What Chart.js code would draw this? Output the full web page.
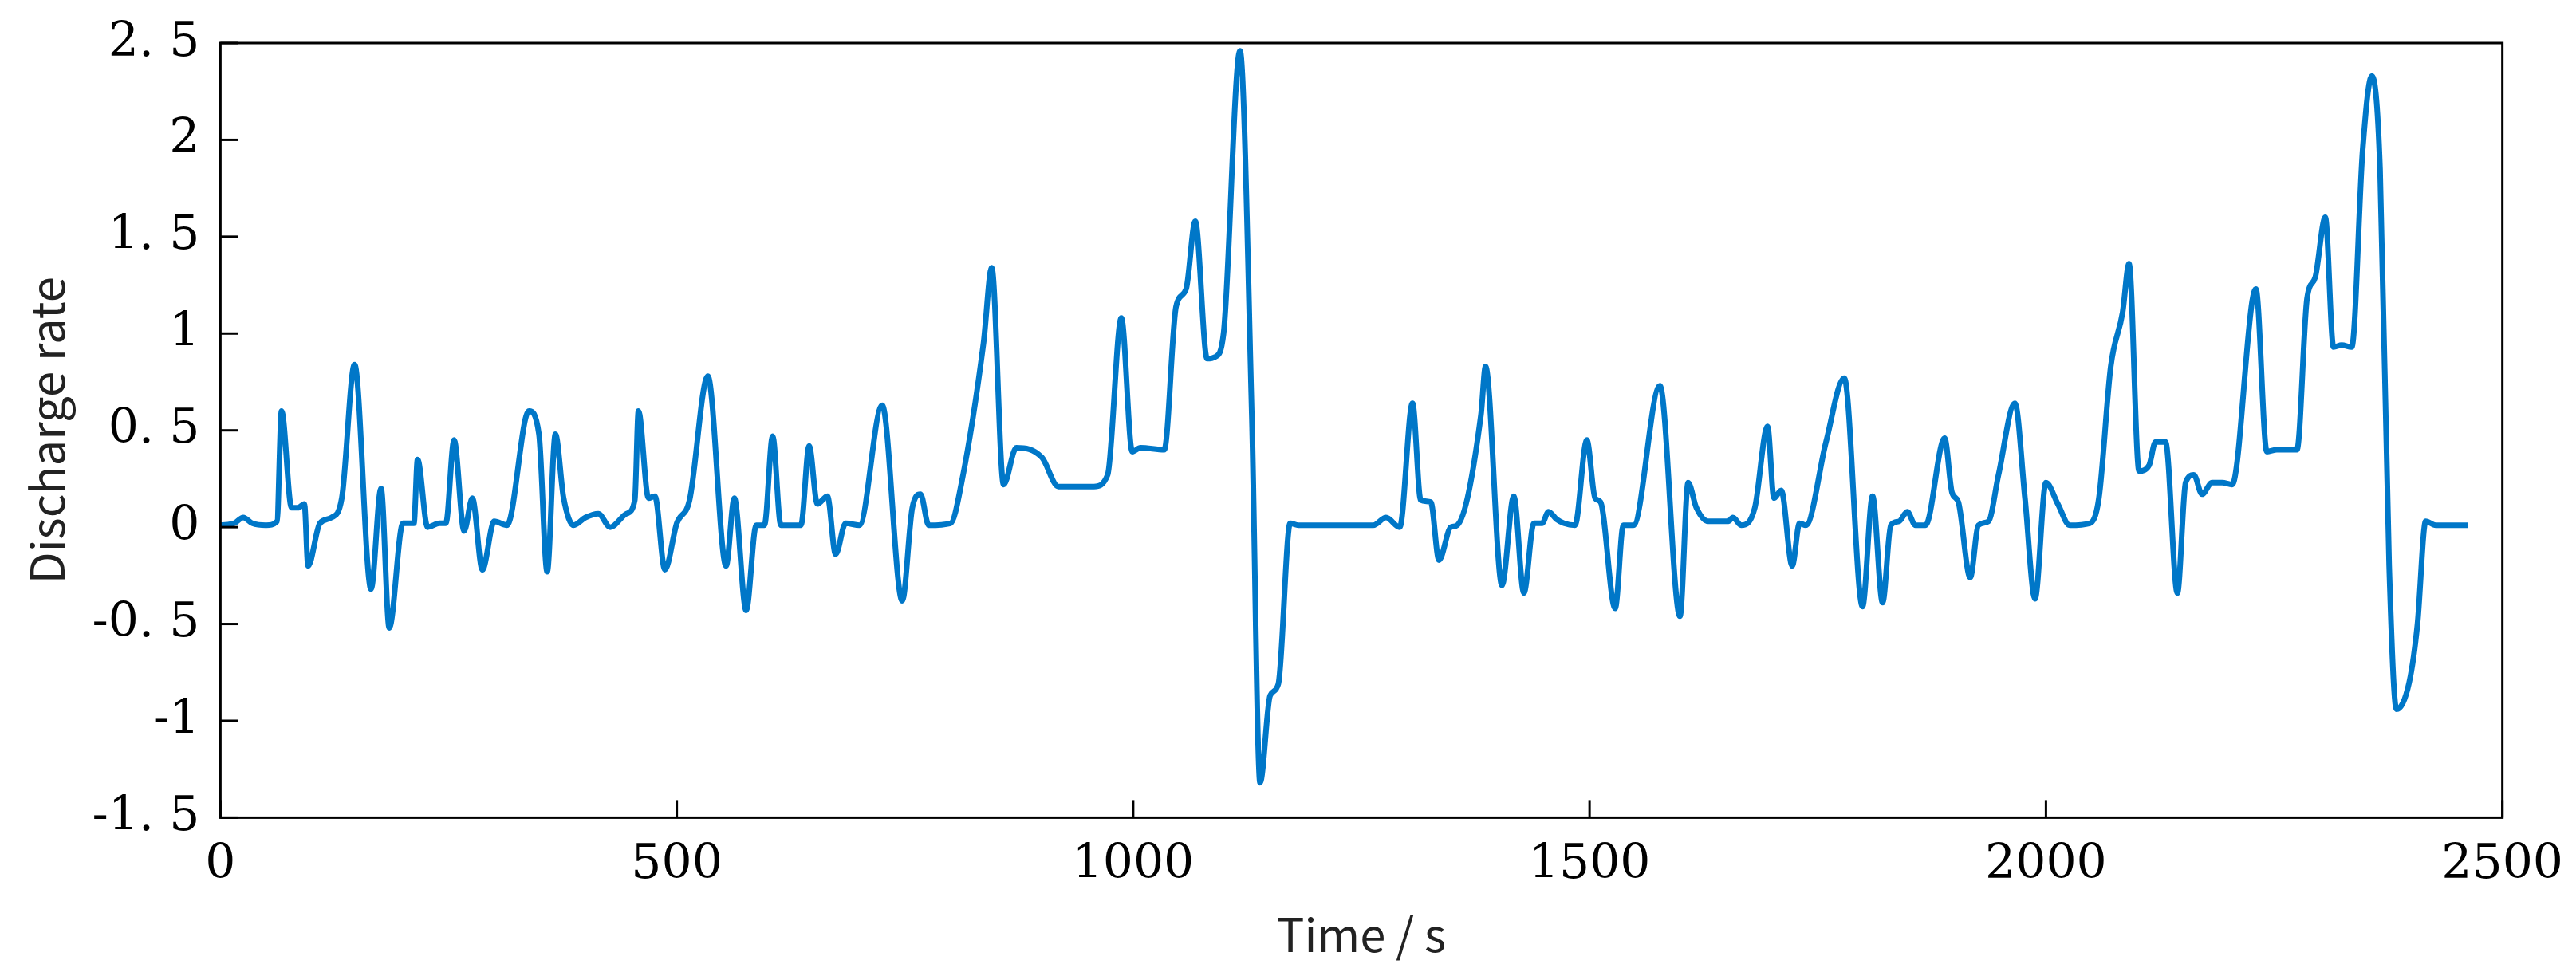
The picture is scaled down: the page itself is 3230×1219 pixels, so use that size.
<!DOCTYPE html>
<html lang="en">
<head>
<meta charset="UTF-8">
<title>Discharge rate</title>
<script src="https://cdn.jsdelivr.net/npm/chart.js"></script>
<style>
  body { margin: 0; background: #fff; }
</style>
</head>
<body>
<canvas id="grafico" width="3230" height="1219"></canvas>
<script>
// values (time in s, discharge rate)
const tempos = [0,15,25,35,50,62,67,78,85,92,96,109,122,133,147,165,176,185,200,212,216,227,240,247,256,267,276,287,300,314,338,349,358,367,376,387,400,414,427,445,454,458,469,476,487,500,514,534,554,563,576,587,596,605,614,627,636,645,654,665,674,685,700,725,747,758,767,776,800,812,836,845,858,872,900,918,957,972,987,999,1008,1034,1047,1058,1068,1081,1090,1099,1117,1130,1139,1150,1159,1172,1181,1263,1277,1292,1306,1315,1326,1335,1348,1355,1381,1386,1404,1417,1428,1439,1448,1455,1464,1472,1484,1497,1506,1512,1528,1537,1548,1577,1599,1608,1617,1630,1652,1657,1666,1681,1695,1702,1710,1722,1730,1737,1759,1779,1799,1810,1821,1830,1839,1848,1857,1868,1889,1897,1904,1917,1926,1937,1948,1966,1977,1988,2000,2013,2026,2048,2058,2071,2084,2091,2102,2113,2120,2131,2144,2153,2162,2171,2182,2193,2204,2226,2230,2242,2253,2275,2286,2295,2306,2315,2324,2335,2347,2357,2366,2376,2384,2398,2407,2416,2427,2462]
const taxa = [0.01,0.02,0.05,0.02,0.01,0.03,0.6,0.1,0.1,0.12,-0.2,0.02,0.05,0.15,0.84,-0.32,0.2,-0.52,0.02,0.02,0.35,0.0,0.02,0.02,0.45,-0.02,0.15,-0.22,0.03,0.01,0.6,0.48,-0.23,0.48,0.15,0.01,0.05,0.07,0.0,0.07,0.14,0.6,0.15,0.16,-0.22,0.02,0.14,0.78,-0.2,0.15,-0.43,0.01,0.01,0.47,0.01,0.01,0.01,0.42,0.12,0.16,-0.14,0.02,0.01,0.63,-0.38,0.1,0.17,0.01,0.02,0.23,0.95,1.34,0.22,0.41,0.36,0.21,0.21,0.27,1.08,0.39,0.41,0.4,1.14,1.23,1.58,0.87,0.88,1.0,2.46,0.57,-1.32,-0.87,-0.81,0.02,0.01,0.01,0.05,0.0,0.64,0.14,0.13,-0.17,0.0,0.01,0.58,0.83,-0.3,0.16,-0.34,0.02,0.02,0.08,0.04,0.02,0.01,0.45,0.15,0.13,-0.42,0.01,0.01,0.73,-0.46,0.23,0.1,0.03,0.03,0.05,0.01,0.1,0.52,0.15,0.19,-0.2,0.02,0.01,0.44,0.77,-0.41,0.16,-0.39,0.01,0.03,0.08,0.01,0.01,0.46,0.18,0.13,-0.26,0.01,0.03,0.27,0.64,0.15,-0.37,0.23,0.12,0.01,0.02,0.15,0.83,1.11,1.36,0.29,0.32,0.44,0.44,-0.34,0.23,0.27,0.17,0.23,0.23,0.22,1.17,1.23,0.39,0.4,0.4,1.18,1.29,1.6,0.93,0.94,0.93,1.95,2.33,1.85,-0.2,-0.94,-0.8,-0.5,0.03,0.01,0.01]
const ticksX = [0,500,1000,1500,2000,2500]
const ticksY = [-1.5,-1,-0.5,0,0.5,1,1.5,2,2.5]

const pontos = tempos.map((t,i)=>({x:t,y:taxa[i]}))

// tick labels like "2. 5"
const fmt = v => String(v).replace('.', '. ')

// box + inward ticks
const moldura = {
  id: 'moldura',
  afterDraw(chart){
    const c = chart.ctx, a = chart.chartArea
    const sx = chart.scales.x, sy = chart.scales.y
    c.save()
    c.strokeStyle = '#000'
    c.lineWidth = 3
    c.strokeRect(a.left, a.top, a.right-a.left, a.bottom-a.top)
    ticksX.forEach(v=>{
      const p = sx.getPixelForValue(v)
      c.beginPath(); c.moveTo(p,a.bottom); c.lineTo(p,a.bottom-22); c.stroke()
    })
    ticksY.forEach(v=>{
      const p = sy.getPixelForValue(v)
      c.beginPath(); c.moveTo(a.left,p); c.lineTo(a.left+22,p); c.stroke()
    })
    c.restore()
  }
}

new Chart(document.getElementById('grafico'), {
  type: 'line',
  data: {
    datasets: [{
      data: pontos,
      borderColor: '#0077c8',
      borderWidth: 7,
      pointRadius: 0,
      cubicInterpolationMode: 'monotone'
    }]
  },
  options: {
    responsive: false,
    devicePixelRatio: 1,
    animation: false,
    layout: { padding: { left: 20, top: 44, right: 80, bottom: 8 } },
    plugins: { legend: { display: false }, tooltip: { enabled: false } },
    scales: {
      x: {
        type: 'linear', min: 0, max: 2500,
        afterBuildTicks: s => { s.ticks = ticksX.map(v=>({value:v})) },
        grid: { display: false },
        border: { display: false },
        ticks: { color: '#000', font: { family: 'DejaVu Serif', size: 60 }, padding: 16, maxRotation: 0, callback: v => String(v) },
        title: { display: true, text: 'Time / s', color: '#222', font: { family: 'Noto Sans CJK JP', size: 58 }, padding: { top: 0 } }
      },
      y: {
        min: -1.5, max: 2.5,
        afterBuildTicks: s => { s.ticks = ticksY.map(v=>({value:v})) },
        grid: { display: false },
        border: { display: false },
        ticks: { color: '#000', font: { family: 'DejaVu Serif', size: 60 }, padding: 18, callback: v => fmt(v) },
        title: { display: true, text: 'Discharge rate', color: '#222', font: { family: 'Noto Sans CJK JP', size: 58 }, padding: { bottom: 4 } }
      }
    }
  },
  plugins: [moldura]
})
</script>
</body>
</html>
